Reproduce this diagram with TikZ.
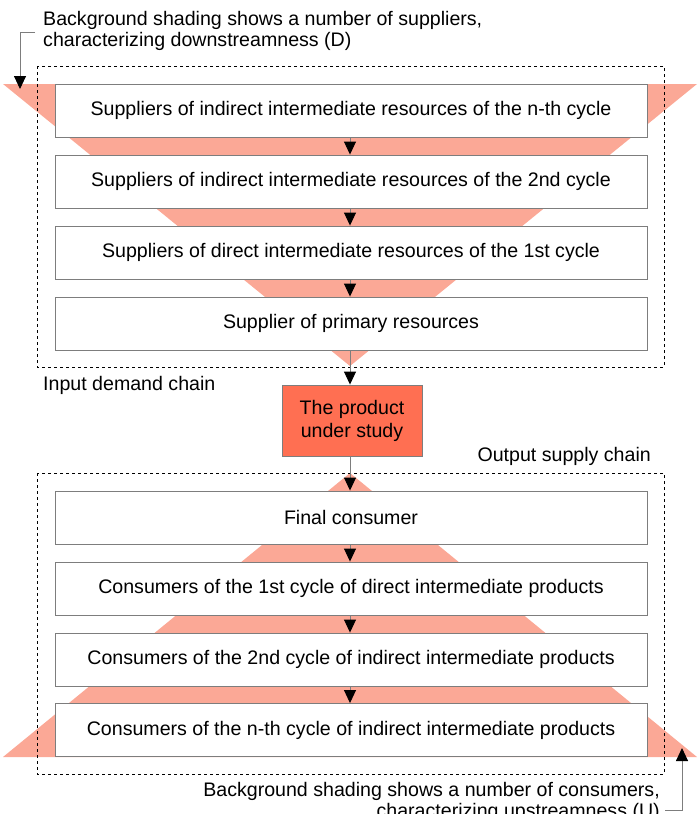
\documentclass[tikz,border=0pt]{standalone}
\usepackage{fontspec}
\setmainfont{Liberation Sans}
\usetikzlibrary{arrows.meta}
\definecolor{shadecol}{RGB}{251,168,150}
\definecolor{prodcol}{RGB}{255,111,82}
\definecolor{edgegray}{RGB}{125,125,125}
\begin{document}
\begin{tikzpicture}[x=1pt,y=-1pt,
  lbl/.style={font=\fontsize{19.6}{21}\selectfont, inner sep=0pt},
  chainbox/.style={draw=edgegray, fill=white, line width=0.9pt, minimum width=592pt, minimum height=53pt, inner sep=0pt, font=\fontsize{19.6}{21}\selectfont},
  prodbox/.style={draw=edgegray, fill=prodcol, line width=0.9pt, minimum width=140pt, minimum height=71pt, inner sep=0pt, align=center, font=\fontsize{19.6}{23}\selectfont},
  frame/.style={draw=black, dashed, line width=0.8pt},
  flow/.style={draw=edgegray, line width=0.9pt, -{Triangle[color=black,length=13pt,width=12pt]}},
  shadetri/.style={fill=shadecol, draw=none}
]
\useasboundingbox (0,0) rectangle (700,814);
% background shading
\fill[shadetri] (3,84) -- (697,84) -- (350,366) -- cycle;
\fill[shadetri] (350,473) -- (697,757) -- (3,757) -- cycle;
% frames
\draw[frame] (37,66) rectangle (664,367);
\draw[frame] (37,473) rectangle (664,774);
% input chain boxes
\node[chainbox] (s4) at (351,110.5) {Suppliers of indirect intermediate resources of the n-th cycle};
\node[chainbox] (s3) at (351,181.5) {Suppliers of indirect intermediate resources of the 2nd cycle};
\node[chainbox] (s2) at (351,252.5) {Suppliers of direct intermediate resources of the 1st cycle};
\node[chainbox] (s1) at (351,323.5) {Supplier of primary resources};
% product
\node[prodbox] (prod) at (352,420.5) {The product\\under study};
% output chain boxes
\node[chainbox] (c1) at (351,517.5) {Final consumer};
\node[chainbox] (c2) at (351,588.5) {Consumers of the 1st cycle of direct intermediate products};
\node[chainbox] (c3) at (351,659.5) {Consumers of the 2nd cycle of indirect intermediate products};
\node[chainbox] (c4) at (351,730) {Consumers of the n-th cycle of indirect intermediate products};
% labels
\node[lbl, anchor=west] (inlbl) at (43,385) {Input demand chain};
\node[lbl, anchor=east] (outlbl) at (651,456) {Output supply chain};
\node[lbl, anchor=west, align=left] (topnote) at (43,31) {Background shading shows a number of suppliers,\\characterizing downstreamness (D)};
\node[lbl, anchor=east, align=right] (botnote) at (660,802) {Background shading shows a number of consumers,\\characterizing upstreamness (U)};
% flows
\draw[flow] (s4.south -| 350,0) -- (s3.north -| 350,0);
\draw[flow] (s3.south -| 350,0) -- (s2.north -| 350,0);
\draw[flow] (s2.south -| 350,0) -- (s1.north -| 350,0);
\draw[flow] (s1.south -| 350,0) -- (prod.north -| 350,0);
\draw[flow] (prod.south -| 350,0) -- (c1.north -| 350,0);
\draw[flow] (c1.south -| 350,0) -- (c2.north -| 350,0);
\draw[flow] (c2.south -| 350,0) -- (c3.north -| 350,0);
\draw[flow] (c3.south -| 350,0) -- (c4.north -| 350,0);
% annotation arrows
\coordinate (ta) at (20,32);
\coordinate (tb) at (20,89);
\draw[flow] ([xshift=-8pt]topnote.west |- ta) -- (ta) -- (tb);
\coordinate (ba) at (682,810);
\coordinate (bb) at (682,748);
\draw[flow] ([xshift=5pt]botnote.east |- ba) -- (ba) -- (bb);
\end{tikzpicture}
\end{document}
